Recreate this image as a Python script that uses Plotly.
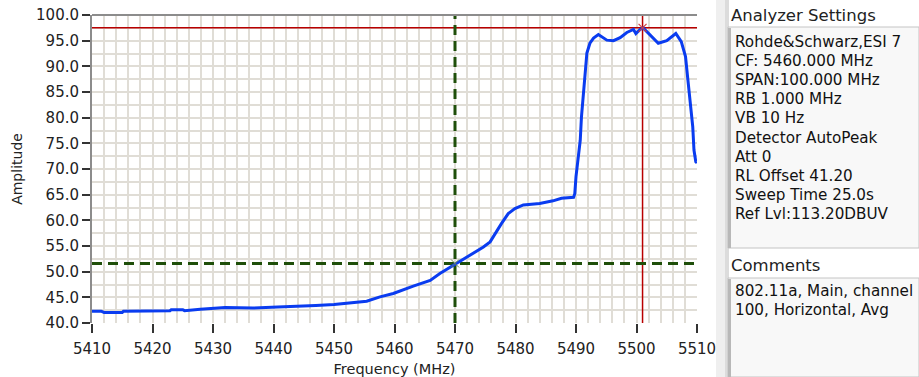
import plotly.graph_objects as go

# ---- data ----
freq_mhz = [5410, 5411.5, 5412, 5415, 5415.2, 5420, 5422.9, 5423.1, 5425.0, 5425.3, 5427.0, 5427.9,
            5432.0, 5436.6, 5440.7, 5444, 5447, 5450, 5452, 5455.4, 5457.6, 5459.8, 5463.1,
            5465.9, 5467.5, 5470.2, 5472.5, 5474.7, 5475.8, 5476.6, 5477.7, 5478.8, 5479.9,
            5481.3, 5484.0, 5486.2, 5487.6, 5489.6, 5489.8, 5490.0, 5490.7, 5490.9, 5491.2,
            5491.5, 5491.8, 5492.3, 5492.9, 5493.7, 5494.2, 5495.1, 5496.2, 5497.3, 5498.4,
            5499.5, 5499.9, 5500.6, 5501.1, 5502.2, 5503.6, 5505.0, 5506.5, 5507.4, 5508.1,
            5508.5, 5508.9, 5509.3, 5509.5, 5509.8, 5510]
amplitude = [42.3, 42.3, 42.05, 42.05, 42.3, 42.35, 42.4, 42.6, 42.6, 42.4, 42.6, 42.7,
             43.0, 42.9, 43.1, 43.2, 43.4, 43.6, 43.8, 44.25, 45.1, 45.75, 47.2,
             48.3, 49.65, 51.6, 53.2, 54.8, 55.8, 57.4, 59.4, 61.3, 62.3,
             63.0, 63.3, 63.8, 64.3, 64.5, 65.2, 68.5, 75.6, 80.1, 84.8,
             89.3, 92.6, 94.5, 95.5, 96.2, 95.8, 95.1, 95.0, 95.6, 96.6,
             97.2, 96.4, 97.2, 97.5, 96.1, 94.5, 95.0, 96.4, 94.8, 91.9,
             87.3, 82.1, 78.2, 73.7, 71.4, 71.2]

x_ticks = [5410, 5420, 5430, 5440, 5450, 5460, 5470, 5480, 5490, 5500, 5510]
y_ticks = [40, 45, 50, 55, 60, 65, 70, 75, 80, 85, 90, 95, 100]

peak_marker = (5501.0, 97.5)
cross_marker = (5470.0, 51.6)

settings_lines = ["Rohde&Schwarz,ESI 7", "CF: 5460.000 MHz", "SPAN:100.000 MHz",
                  "RB 1.000 MHz", "VB 10 Hz", "Detector AutoPeak", "Att 0",
                  "RL Offset 41.20", "Sweep Time 25.0s", "Ref Lvl:113.20DBUV"]
comment_lines = ["802.11a, Main, channel", "100, Horizontal, Avg"]

# ---- layout geometry ----
W, H = 919, 377
L, R, T, B = 92, 697, 15, 323
FONT = "DejaVu Sans"


def px(x):
    return (x - L) / (R - L)


def py(y):
    return (B - y) / (B - T)


fig = go.Figure()

red = "#b80000"
green = "#1f4f0a"
# marker lines
fig.add_trace(go.Scatter(x=[5410, 5510], y=[peak_marker[1]] * 2, mode="lines",
                         line=dict(color=red, width=1.5), hoverinfo="skip"))
fig.add_trace(go.Scatter(x=[peak_marker[0]] * 2, y=[40, 100], mode="lines",
                         line=dict(color=red, width=1.5), hoverinfo="skip"))
fig.add_trace(go.Scatter(x=[5410, 5510], y=[cross_marker[1]] * 2, mode="lines",
                         line=dict(color=green, width=3, dash="10px,6px"), hoverinfo="skip"))
fig.add_trace(go.Scatter(x=[cross_marker[0]] * 2, y=[40, 100], mode="lines",
                         line=dict(color=green, width=3, dash="10px,6px"), hoverinfo="skip"))

# spectrum
fig.add_trace(go.Scatter(x=freq_mhz, y=amplitude, mode="lines",
                         line=dict(color="#0a3cf0", width=3)))

# cursor markers
fig.add_trace(go.Scatter(x=[peak_marker[0]], y=[peak_marker[1]], mode="markers",
                         marker=dict(symbol="x-thin", size=8, line=dict(color="#d04040", width=1.2))))
fig.add_trace(go.Scatter(x=[cross_marker[0]], y=[cross_marker[1]], mode="markers",
                         marker=dict(symbol="x-thin", size=8, line=dict(color="#6a8a50", width=1))))

shapes = [
    # top border of plot
    dict(type="line", xref="paper", yref="paper", x0=0, x1=1, y0=1, y1=1,
         line=dict(color="#8c8c8c", width=2)),
    # side strip
    dict(type="rect", xref="paper", yref="paper", x0=px(716), x1=px(725), y0=py(0), y1=py(377),
         fillcolor="#efefef", line=dict(width=0), layer="below"),
    dict(type="rect", xref="paper", yref="paper", x0=px(725), x1=px(729), y0=py(0), y1=py(377),
         fillcolor="#dcdcdc", line=dict(width=0), layer="below"),
    # settings box
    dict(type="rect", xref="paper", yref="paper", x0=px(728), x1=px(919), y0=py(27), y1=py(248),
         fillcolor="#f8f8f8", line=dict(color="#c4c4c4", width=1), layer="below"),
    dict(type="rect", xref="paper", yref="paper", x0=px(728), x1=px(731), y0=py(28), y1=py(248),
         fillcolor="#b8b8b8", line=dict(width=0), layer="below"),
    # comments box
    dict(type="rect", xref="paper", yref="paper", x0=px(728), x1=px(919), y0=py(278), y1=py(377),
         fillcolor="#f8f8f8", line=dict(color="#c4c4c4", width=1), layer="below"),
    dict(type="rect", xref="paper", yref="paper", x0=px(728), x1=px(731), y0=py(279), y1=py(377),
         fillcolor="#b8b8b8", line=dict(width=0), layer="below"),
]

annotations = [
    dict(text="Analyzer Settings", x=px(729), y=py(15), xref="paper", yref="paper",
         xanchor="left", yanchor="middle", showarrow=False,
         font=dict(family=FONT, size=16.5, color="#222222")),
    dict(text="Comments", x=px(729), y=py(265), xref="paper", yref="paper",
         xanchor="left", yanchor="middle", showarrow=False,
         font=dict(family=FONT, size=16.5, color="#222222")),
]
for i, line in enumerate(settings_lines):
    annotations.append(dict(text=line, x=px(733), y=py(42 + i * 19.1), xref="paper", yref="paper",
                            xanchor="left", yanchor="middle", showarrow=False,
                            font=dict(family=FONT, size=15.2, color="#111111")))
for i, line in enumerate(comment_lines):
    annotations.append(dict(text=line, x=px(733), y=py(291 + i * 19.1), xref="paper", yref="paper",
                            xanchor="left", yanchor="middle", showarrow=False,
                            font=dict(family=FONT, size=15.2, color="#111111")))

grid_c = "#e0ddd6"
fig.update_layout(
    width=W, height=H,
    margin=dict(l=L, r=W - R, t=T, b=H - B, pad=0),
    paper_bgcolor="white", plot_bgcolor="white",
    showlegend=False,
    font=dict(family=FONT, color="#222222"),
    shapes=shapes, annotations=annotations,
    xaxis=dict(range=[5410, 5510], tickvals=x_ticks, ticks="outside", ticklen=9, tickwidth=2,
               tickcolor="#333333", showgrid=True, gridcolor=grid_c, gridwidth=2,
               minor=dict(dtick=2, showgrid=True, gridcolor=grid_c, gridwidth=1.5),
               zeroline=False, showline=False, ticklabelstandoff=3, automargin=False,
               tickfont=dict(family=FONT, size=15, color="#222222"),
               title=dict(text="Frequency (MHz)", font=dict(family=FONT, size=14.5, color="#222222"),
                          standoff=6)),
    yaxis=dict(range=[40, 100], tickvals=y_ticks, tickformat=".1f", ticks="outside", ticklen=8,
               tickwidth=2, tickcolor="#333333", showgrid=True, gridcolor=grid_c, gridwidth=2,
               minor=dict(dtick=2.5, showgrid=True, gridcolor=grid_c, gridwidth=1.5),
               zeroline=False, showline=True, linecolor="#8c8c8c", linewidth=2, automargin=False,
               tickfont=dict(family=FONT, size=15, color="#222222"),
               title=dict(text="Amplitude", font=dict(family=FONT, size=14, color="#222222"),
                          standoff=10)),
)

fig.write_html("out.html")
